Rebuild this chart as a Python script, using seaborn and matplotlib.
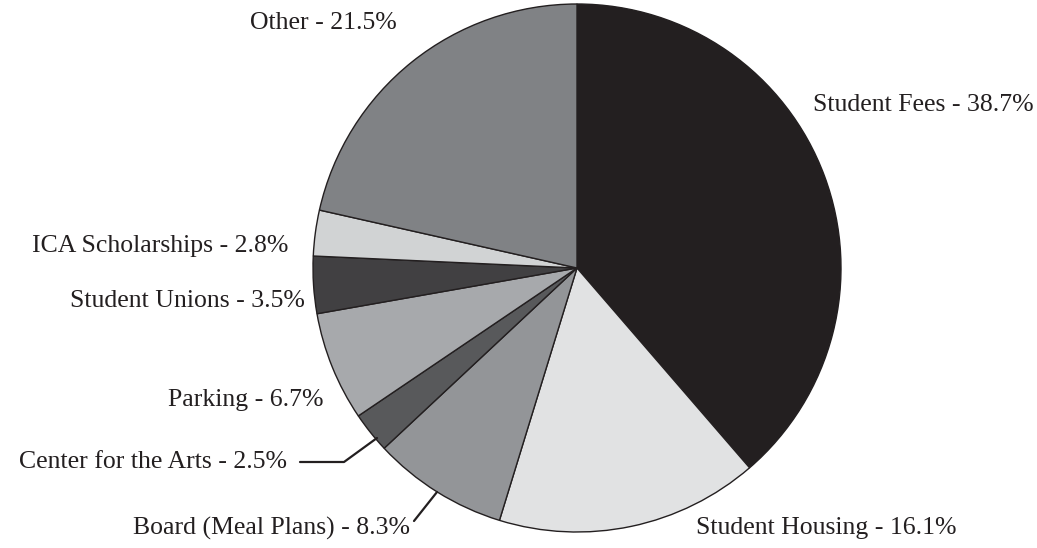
import matplotlib
matplotlib.use("Agg")
import matplotlib.pyplot as plt
import seaborn as sns

# Revenue shares, clockwise from 12 o'clock
categories = ["Student Fees", "Student Housing", "Board (Meal Plans)", "Center for the Arts",
              "Parking", "Student Unions", "ICA Scholarships", "Other"]
shares = [38.7, 16.1, 8.3, 2.5, 6.7, 3.5, 2.8, 21.5]
colors = ["#231f20", "#e1e2e3", "#939598", "#58595b", "#a7a9ac", "#414042", "#d1d3d4", "#808285"]

sns.set_theme(style="white")
plt.rcParams['font.family'] = ['Liberation Serif', 'DejaVu Serif']

fig = plt.figure(figsize=(10.37, 5.48), dpi=100)
ax = fig.add_axes([0, 0, 1, 1])

# pie drawn in pixel-like units so labels can be placed on the same grid
ax.pie(shares, colors=colors, startangle=90, counterclock=False,
       center=(577, 280), radius=264,
       wedgeprops=dict(edgecolor="#231f20", linewidth=1.0))

ax.set_xlim(0, 1037)
ax.set_ylim(0, 548)
ax.set_aspect("equal")
ax.axis("off")

def lbl(i):
    return f"{categories[i]} - {shares[i]}%"

fs = 18.5
H = 548
ax.text(813, H - 105, lbl(0), ha="left", va="center", fontsize=fs, color="#231f20")
ax.text(696, H - 528, lbl(1), ha="left", va="center", fontsize=fs, color="#231f20")
ax.text(410, H - 528, lbl(2), ha="right", va="center", fontsize=fs, color="#231f20")
ax.text(287, H - 462, lbl(3), ha="right", va="center", fontsize=fs, color="#231f20")
ax.text(323, H - 400, lbl(4), ha="right", va="center", fontsize=fs, color="#231f20")
ax.text(305, H - 301, lbl(5), ha="right", va="center", fontsize=fs, color="#231f20")
ax.text(288, H - 246, lbl(6), ha="right", va="center", fontsize=fs, color="#231f20")
ax.text(397, H - 23, lbl(7), ha="right", va="center", fontsize=fs, color="#231f20")

# leader lines for the two small slices
ax.plot([300, 344, 377], [H - 462, H - 462, H - 438], color="#231f20", lw=1.6)
ax.plot([414, 437], [H - 521, H - 492], color="#231f20", lw=1.6)

fig.savefig("out.png", dpi=100)
